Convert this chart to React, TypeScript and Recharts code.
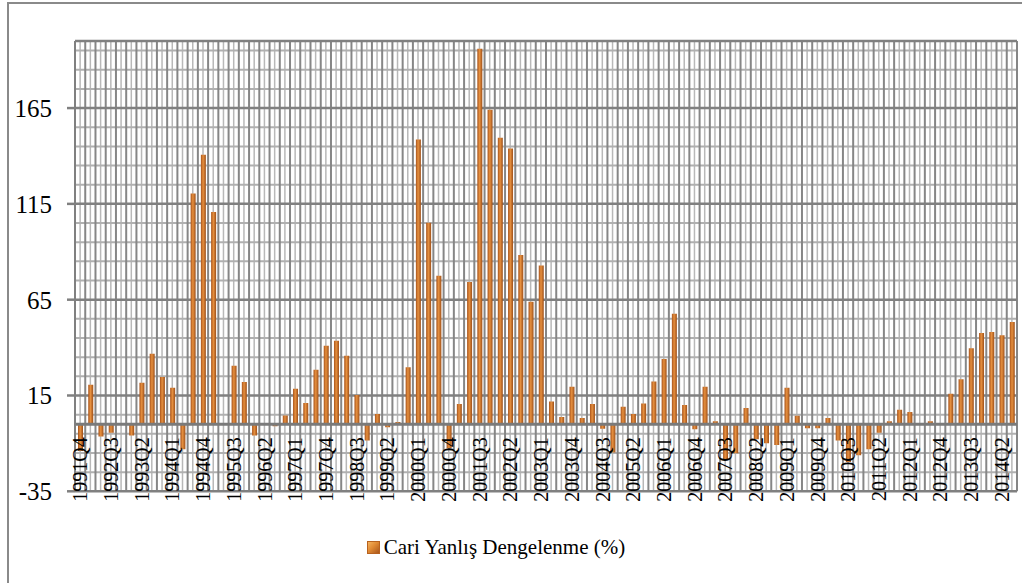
import React from 'react';
import { BarChart, Bar, XAxis, YAxis, CartesianGrid, ReferenceLine, Legend } from 'recharts';

const quarters = [
  '1991Q4','1992Q1','1992Q2','1992Q3','1992Q4','1993Q1','1993Q2','1993Q3','1993Q4','1994Q1','1994Q2','1994Q3',
  '1994Q4','1995Q1','1995Q2','1995Q3','1995Q4','1996Q1','1996Q2','1996Q3','1996Q4','1997Q1','1997Q2','1997Q3',
  '1997Q4','1998Q1','1998Q2','1998Q3','1998Q4','1999Q1','1999Q2','1999Q3','1999Q4','2000Q1','2000Q2','2000Q3',
  '2000Q4','2001Q1','2001Q2','2001Q3','2001Q4','2002Q1','2002Q2','2002Q3','2002Q4','2003Q1','2003Q2','2003Q3',
  '2003Q4','2004Q1','2004Q2','2004Q3','2004Q4','2005Q1','2005Q2','2005Q3','2005Q4','2006Q1','2006Q2','2006Q3',
  '2006Q4','2007Q1','2007Q2','2007Q3','2007Q4','2008Q1','2008Q2','2008Q3','2008Q4','2009Q1','2009Q2','2009Q3',
  '2009Q4','2010Q1','2010Q2','2010Q3','2010Q4','2011Q1','2011Q2','2011Q3','2011Q4','2012Q1','2012Q2','2012Q3',
  '2012Q4','2013Q1','2013Q2','2013Q3','2013Q4','2014Q1','2014Q2','2014Q3',
];

const cariValues = [
  -14, 20.6, -6.4, -4.4, 0, -5.9, 21.6, 36.8, 24.7, 19, -13, 120.4,
  140.6, 110.8, 0.5, 30.5, 22.1, -5.9, 0, -1, 4.5, 18.5, 11.1, 28.4,
  40.9, 43.6, 35.7, 15.2, -8.5, 5.4, -1.6, 1.2, 29.8, 148.6, 105.2, 77.5,
  -12.5, 10.6, 74.2, 196, 164.1, 149.5, 143.9, 88.3, 63.9, 82.8, 11.8, 3.8,
  19.5, 3.3, 10.6, -2.4, -14.8, 9.1, 5.4, 10.8, 22.3, 34.1, 57.7, 10.1,
  -2.6, 19.5, 1.6, -18.3, -15.2, 8.5, -7.8, -9.9, -10.8, 19, 4.4, -2.1,
  -2.1, 3.3, -8.5, -19.7, -16.2, -13, -4.4, 1.6, 7.5, 6.4, 0, 1.6,
  0, 15.9, 23.5, 39.7, 47.6, 48.1, 46.5, 53.3,
];

const yTicks = [-35, 15, 65, 115, 165];
const yMinorTicks = [-25, -15, -5, 5, 25, 35, 45, 55, 75, 85, 95, 105, 125, 135, 145, 155, 175, 185, 195];
const Y_MIN = -35;
const Y_MAX = 200;
const seriesName = 'Cari Yanlış Dengelenme (%)';

const data = quarters.map((q, i) => ({ q, v: cariValues[i] }));

const W = 1022;
const H = 583;
const PLOT_LEFT = 75;
const PLOT_RIGHT = 1017;
const PLOT_TOP = 41;
const PLOT_BOTTOM = 491.3;
const PLOT_W = PLOT_RIGHT - PLOT_LEFT;
const PLOT_H = PLOT_BOTTOM - PLOT_TOP;
const X_AXIS_H = 30;
const yPix = (v: number) => PLOT_TOP + ((Y_MAX - v) / (Y_MAX - Y_MIN)) * PLOT_H;
const ZERO_Y = yPix(0);

const FONT = '"Liberation Serif", "Times New Roman", Tinos, serif';

const XTick = (props: any) => {
  const { x, payload } = props;
  const ty = ZERO_Y + 13;
  return (
    <text
      x={x}
      y={ty}
      dy="0.36em"
      textAnchor="end"
      transform={`rotate(-90, ${x}, ${ty})`}
      fontFamily={FONT}
      fontSize={20}
      fill="#000"
    >
      {payload.value}
    </text>
  );
};

const LegendContent = () => (
  <div style={{ display: 'flex', justifyContent: 'center', alignItems: 'center', fontFamily: FONT, fontSize: 21, color: '#000' }}>
    <span
      style={{
        display: 'inline-block',
        width: 11,
        height: 11,
        marginRight: 4,
        background: 'linear-gradient(135deg, #f4b35e 0%, #e08a34 45%, #a9561b 100%)',
        border: '1px solid #b8621f',
      }}
    />
    <span>{seriesName}</span>
  </div>
);

const N = quarters.length;
const boundaries = Array.from({ length: N + 1 }, (_, i) => PLOT_LEFT + (i * PLOT_W) / N);
const centers = Array.from({ length: N }, (_, i) => PLOT_LEFT + ((i + 0.5) * PLOT_W) / N);
const minorYs = yMinorTicks.map(yPix);

export default function App() {
  return (
    <div style={{ position: 'relative', width: W, height: H, overflow: 'hidden', background: '#fff' }}>
      <style>{'body{margin:0;overflow:hidden;background:#fff}'}</style>
      <div
        style={{
          position: 'absolute',
          left: 7,
          top: 2,
          width: 1060,
          height: 640,
          border: '2px solid #8a8a8a',
          boxSizing: 'border-box',
        }}
      />
      <div style={{ position: 'absolute', left: 0, top: 0 }}>
        <BarChart
          width={W}
          height={H}
          data={data}
          margin={{ top: PLOT_TOP, right: W - PLOT_RIGHT, left: 0, bottom: H - PLOT_BOTTOM - X_AXIS_H }}
          barCategoryGap={0}
        >
          <defs>
            <linearGradient id="barGrad" x1="0" y1="0" x2="1" y2="0">
              <stop offset="0%" stopColor="#a8531a" />
              <stop offset="45%" stopColor="#e6903f" />
              <stop offset="100%" stopColor="#9e4f18" />
            </linearGradient>
          </defs>
          <CartesianGrid horizontal={false} vertical verticalPoints={centers} stroke="#b8b8b8" strokeWidth={1.5} />
          <CartesianGrid vertical={false} horizontal horizontalPoints={minorYs} stroke="#b0b0b0" strokeWidth={2} />
          <CartesianGrid horizontal={false} vertical verticalPoints={boundaries} stroke="#868686" strokeWidth={2} />
          <CartesianGrid vertical={false} horizontal stroke="#808080" strokeWidth={2.5} />
          <XAxis
            dataKey="q"
            interval={2}
            tickLine={false}
            axisLine={false}
            height={X_AXIS_H}
            tick={<XTick />}
          />
          <YAxis
            domain={[Y_MIN, Y_MAX]}
            ticks={yTicks}
            allowDataOverflow
            width={PLOT_LEFT}
            tickSize={8}
            tickMargin={15}
            axisLine={{ stroke: '#808080', strokeWidth: 2 }}
            tickLine={{ stroke: '#808080', strokeWidth: 2.5 }}
            tick={{ fontFamily: FONT, fontSize: 25, fill: '#000' }}
          />
          <ReferenceLine y={0} stroke="#7a7a7a" strokeWidth={3} />
          <Bar dataKey="v" name={seriesName} fill="url(#barGrad)" barSize={5} isAnimationActive={false} />
          <Legend
            verticalAlign="middle"
            align="center"
            layout="horizontal"
            wrapperStyle={{ top: 535, left: 0, width: 992 }}
            content={<LegendContent />}
          />
        </BarChart>
      </div>
    </div>
  );
}
